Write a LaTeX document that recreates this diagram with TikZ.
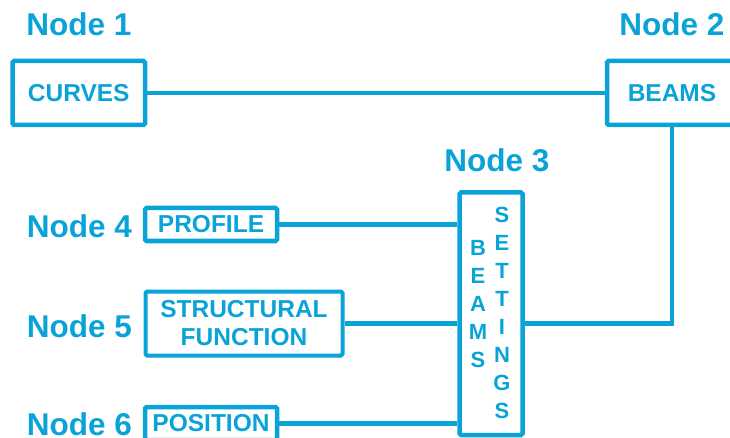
\documentclass[tikz,border=0pt]{standalone}
\usepackage{fontspec}
\setmainfont{Liberation Sans}
\definecolor{skyblue}{RGB}{10,163,216}

\begin{document}
\begin{tikzpicture}[x=1pt, y=-1pt, skyblue,
    label/.style={text=skyblue, font=\fontsize{31.5}{36}\selectfont\bfseries, inner sep=0pt},
    box/.style={draw=skyblue, line width=4.5pt, rounded corners=1.5pt, text=skyblue, inner sep=0pt, align=center, font=\fontsize{24.5}{28}\selectfont\bfseries},
    letters/.style={text=skyblue, inner sep=0pt, align=center, font=\fontsize{22}{28}\selectfont\bfseries},
    link/.style={skyblue, line width=4.5pt}]
      \useasboundingbox (0,0) rectangle (730,438);
      \clip (0,0) rectangle (730,438);

      \node[label] (l1) at (79, 24) {Node 1};
      \node[label] (l2) at (672, 24) {Node 2};
      \node[label] (l3) at (497, 160) {Node 3};
      \node[label] (l4) at (79.5, 226.5) {Node 4};
      \node[label] (l5) at (79.5, 326) {Node 5};
      \node[label] (l6) at (79.5, 424) {Node 6};

      \node[box, minimum width=132.5pt, minimum height=64pt] (curves) at (78.75, 93) {CURVES};
      \node[box, minimum width=130pt, minimum height=64pt] (beams) at (672, 93) {BEAMS};
      \node[box, minimum width=63pt, minimum height=242.5pt] (settings) at (491, 313.75) {};
      \node[letters] (beamsword) at (478, 304) {B\\E\\A\\M\\S};
      \node[letters] (settingsword) at (502, 313) {S\\E\\T\\T\\I\\N\\G\\S};
      \node[box, minimum width=132pt, minimum height=33pt] (profile) at (211, 224.5) {PROFILE};
      \node[box, line width=4pt, minimum width=197pt, minimum height=64pt] (structural) at (244, 323.5) {STRUCTURAL\\FUNCTION};
      \node[box, minimum width=132pt, minimum height=33pt] (position) at (211, 423.5) {POSITION};

      \draw[link] (curves) -- (beams);
      \draw[link] (beams.south) |- (structural -| settings.east);
      \draw[link] (profile) -- (profile -| settings.west);
      \draw[link] (structural) -- (structural -| settings.west);
      \draw[link] (position) -- (position -| settings.west);

    \end{tikzpicture}
\end{document}
